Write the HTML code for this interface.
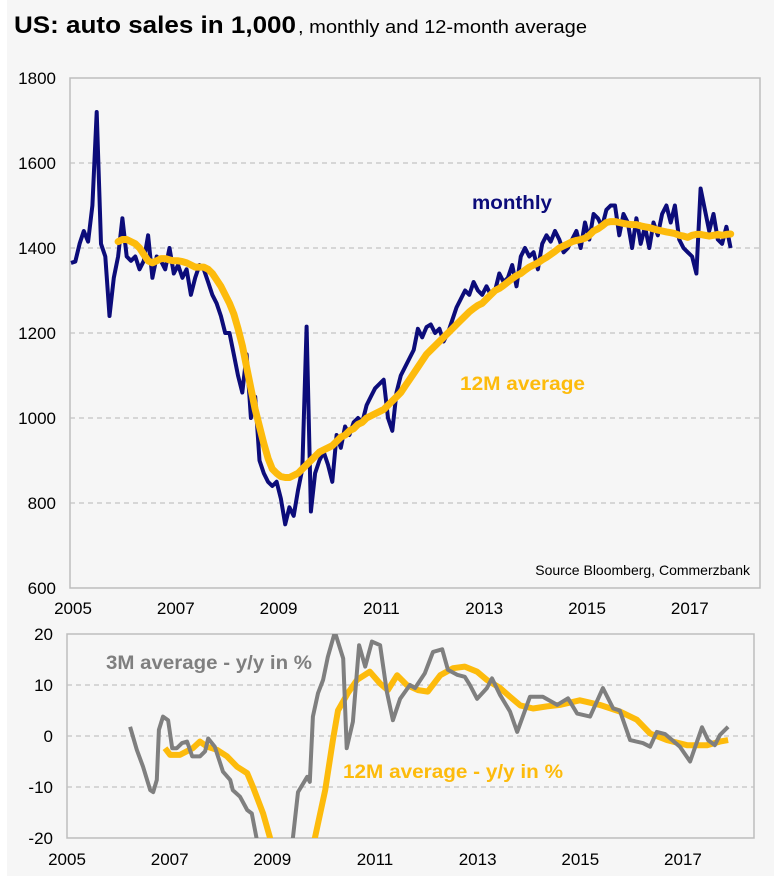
<!DOCTYPE html>
<html><head><meta charset="utf-8">
<style>
html,body{margin:0;padding:0;background:#fff;}
body{width:774px;height:876px;overflow:hidden;font-family:"Liberation Sans",Arial,sans-serif;}
svg text{font-family:"Liberation Sans",Arial,sans-serif;}
</style></head>
<body>
<svg id="chart" width="774" height="876" xmlns="http://www.w3.org/2000/svg">
<rect x="7" y="0" width="767" height="876" fill="#f6f6f6"/>
<text x="14" y="33" font-size="24" font-weight="bold" fill="#000" textLength="282" lengthAdjust="spacingAndGlyphs">US: auto sales in 1,000</text>
<text x="298" y="33" font-size="18" fill="#000" textLength="289" lengthAdjust="spacingAndGlyphs">, monthly and 12-month average</text>
<defs><clipPath id="bclip"><rect x="67" y="634" width="687" height="204"/></clipPath></defs>
<g id="topChart"></g>
<g id="botChart"></g>
</svg>
<script>
// ---- top chart data ----
const monthlyStart = 2005.0;
const monthlySales = [
1365,1368,1410,1440,1415,1500,1720,1410,1380,1240,1330,1380,
1470,1380,1370,1380,1350,1370,1430,1330,1380,1370,1350,1400,
1340,1360,1330,1350,1290,1330,1360,1350,1320,1290,1270,1240,
1200,1200,1150,1100,1060,1150,1000,1050,900,870,850,840,
850,810,750,790,770,830,880,1215,780,870,900,920,
890,850,960,930,980,960,990,1000,990,1030,1050,1070,
1080,1090,1000,970,1060,1100,1120,1140,1160,1210,1190,1214,
1220,1200,1210,1180,1200,1230,1260,1280,1300,1290,1320,1300,
1290,1310,1290,1300,1340,1320,1330,1360,1310,1380,1400,1380,
1390,1350,1410,1430,1415,1440,1420,1390,1400,1420,1440,1400,
1460,1420,1480,1470,1450,1490,1500,1500,1430,1480,1460,1400,
1470,1410,1450,1400,1460,1430,1480,1500,1460,1500,1420,1400,
1390,1380,1340,1540,1490,1440,1480,1420,1410,1450,1400];
const avgStart = 2005.917;
const avgSales = [1415,
1420,1420,1415,1410,1400,1385,1370,1365,1370,1375,1375,1372,
1370,1370,1368,1365,1360,1355,1355,1355,1350,1340,1325,1310,
1290,1270,1245,1210,1170,1120,1070,1020,980,940,905,880,
870,862,860,860,865,870,880,890,900,910,920,925,
930,935,945,955,960,970,975,985,990,1000,1005,1010,
1015,1020,1030,1040,1050,1060,1075,1090,1105,1120,1135,1150,
1160,1170,1180,1190,1200,1210,1220,1230,1240,1250,1258,1265,
1270,1280,1290,1300,1305,1312,1320,1328,1335,1340,1348,1355,
1360,1365,1372,1378,1385,1392,1400,1405,1410,1415,1418,1420,
1423,1430,1440,1445,1452,1460,1462,1462,1460,1458,1456,1455,
1455,1452,1450,1448,1445,1442,1440,1438,1436,1434,1430,1428,
1425,1430,1432,1432,1430,1428,1430,1432,1430,1432,1433];
const topTicks = [600,800,1000,1200,1400,1600,1800];
const yearTicks = [2005,2007,2009,2011,2013,2015,2017];

// ---- bottom chart data ----
const m3Years = [2006.23,2006.36,2006.48,2006.62,2006.68,2006.75,2006.79,2006.87,2006.97,2007.05,2007.14,2007.24,2007.34,2007.44,2007.59,2007.69,2007.75,2007.88,2008.04,2008.18,2008.23,2008.37,2008.51,2008.60,2008.70,2008.9,2009.1,2009.3,2009.40,2009.50,2009.68,2009.73,2009.79,2009.89,2009.99,2010.08,2010.22,2010.38,2010.45,2010.57,2010.69,2010.81,2010.94,2011.10,2011.23,2011.35,2011.49,2011.68,2011.78,2011.97,2012.13,2012.31,2012.42,2012.60,2012.75,2012.85,2012.99,2013.18,2013.28,2013.44,2013.63,2013.77,2014.02,2014.27,2014.55,2014.76,2014.94,2015.19,2015.44,2015.64,2015.77,2015.97,2016.22,2016.36,2016.49,2016.65,2016.94,2017.14,2017.37,2017.49,2017.62,2017.72,2017.88];
const m3Values = [1.8,-2.7,-6,-10.6,-11,-8.6,1.2,3.8,3.1,-2.4,-2.4,-1.4,-1.1,-4,-4,-3,-0.5,-2.1,-7,-8.6,-10.6,-11.9,-14.5,-15.2,-20.4,-30,-35,-28,-20,-11,-8,-9,3.8,8.4,11,15.5,20.4,15.2,-2.4,2.8,17.8,13.6,18.5,17.8,8.7,3.1,7.3,10,9.4,12.3,16.5,17,13,12,11.6,10,7.3,9.4,11.3,8,4.8,0.8,7.7,7.7,6.1,7.4,4.4,3.8,9.4,5.4,5,-0.8,-1.4,-2.1,0.8,0.4,-2.1,-5,1.7,-0.8,-1.8,0.2,1.8];
const m12Years = [2006.91,2007.01,2007.20,2007.45,2007.59,2007.73,2007.92,2008.12,2008.31,2008.51,2008.62,2008.82,2008.95,2009.2,2009.5,2009.83,2010.03,2010.18,2010.28,2010.47,2010.65,2010.90,2011.10,2011.25,2011.43,2011.62,2011.84,2012.03,2012.27,2012.52,2012.75,2012.99,2013.18,2013.44,2013.63,2013.83,2014.08,2014.35,2014.60,2014.99,2015.38,2015.77,2016.10,2016.36,2016.69,2017.08,2017.47,2017.72,2017.88];
const m12Values = [-2.4,-3.7,-3.7,-2.4,-1.1,-2.1,-2.7,-4,-6,-7.3,-9.9,-15.2,-19.8,-30,-30,-20,-10.6,-0.8,5,8.4,11,12.6,10.3,9,11.9,10,9,8.7,11.9,13.3,13.6,12.6,11,9.4,7.7,6,5.4,5.8,6.1,7,6.1,4.8,3.2,0.5,-0.8,-1.8,-1.8,-1.1,-0.8];
const botTicks = [-20,-10,0,10,20];

const NS="http://www.w3.org/2000/svg";
function mk(tag,attrs,parent){const e=document.createElementNS(NS,tag);for(const k in attrs)e.setAttribute(k,attrs[k]);parent.appendChild(e);return e;}

// ---- top chart ----
const topG=document.getElementById('topChart');
const TL=70,TR=760,TT=78,TB=588;
const tx=y=>71+(y-2005)*51.4;
const ty=v=>TB-(v-600)*(TB-TT)/1200;
const tFrame=mk('rect',{x:TL,y:TT,width:TR-TL,height:TB-TT,fill:'none',stroke:'#bdbdbd','stroke-width':1.5},topG);


topTicks.forEach(v=>{
  if(v>600&&v<1800){const g=mk('line',{x1:TL,x2:TR,y1:ty(v),y2:ty(v),stroke:'#c4c4c4','stroke-dasharray':'5,4','stroke-width':1.2},topG);
  
  }
  const t=mk('text',{x:56,y:ty(v)+6,'text-anchor':'end','font-size':17,fill:'#000'},topG);t.textContent=v;
  
  
});
yearTicks.forEach(y=>{
  const t=mk('text',{x:tx(y)+2,y:614,'text-anchor':'middle','font-size':17,fill:'#000'},topG);t.textContent=y;
  
  
});
const mPts=monthlySales.map((v,i)=>tx(monthlyStart+i/12).toFixed(1)+','+ty(v).toFixed(1)).join(' ');
const mLine=mk('polyline',{points:mPts,fill:'none',stroke:'#0c0c7a','stroke-width':4,'stroke-linejoin':'round'},topG);


const aPts=avgSales.map((v,i)=>tx(avgStart+i/12).toFixed(1)+','+ty(v).toFixed(1)).join(' ');
const aLine=mk('polyline',{points:aPts,fill:'none',stroke:'#fdbb0c','stroke-width':7,'stroke-linejoin':'round','stroke-linecap':'round'},topG);


const l1=mk('text',{x:472,y:209,'font-size':19,'font-weight':'bold',fill:'#0c0c7a',textLength:80,lengthAdjust:'spacingAndGlyphs'},topG);l1.textContent='monthly';


const l2=mk('text',{x:460,y:390,'font-size':19,'font-weight':'bold',fill:'#fdbb0c',textLength:125,lengthAdjust:'spacingAndGlyphs'},topG);l2.textContent='12M average';


const src=mk('text',{x:750,y:575,'text-anchor':'end','font-size':14,fill:'#000'},topG);src.textContent='Source Bloomberg, Commerzbank';



// ---- bottom chart ----
const botG=document.getElementById('botChart');
const BL=67,BR=754,BT=634,BB=838;
const bx=y=>67+(y-2005)*51.33;
const by=v=>BB-(v+20)*(BB-BT)/40;
const bFrame=mk('rect',{x:BL,y:BT,width:BR-BL,height:BB-BT,fill:'none',stroke:'#bdbdbd','stroke-width':1.5},botG);


botTicks.forEach(v=>{
  if(v>-20&&v<20){const g=mk('line',{x1:BL,x2:BR,y1:by(v),y2:by(v),stroke:'#c4c4c4','stroke-dasharray':'5,4','stroke-width':1.2},botG);
  
  }
  const t=mk('text',{x:53,y:by(v)+6,'text-anchor':'end','font-size':17,fill:'#000'},botG);t.textContent=v;
  
  
});
yearTicks.forEach(y=>{
  const t=mk('text',{x:bx(y),y:865,'text-anchor':'middle','font-size':17,fill:'#000'},botG);t.textContent=y;
  
  
});
const p12=m12Years.map((y,i)=>bx(y).toFixed(1)+','+by(m12Values[i]).toFixed(1)).join(' ');
const y12=mk('polyline',{points:p12,fill:'none',stroke:'#fdbb0c','stroke-width':6,'stroke-linejoin':'round','clip-path':'url(#bclip)'},botG);


const p3=m3Years.map((y,i)=>bx(y).toFixed(1)+','+by(m3Values[i]).toFixed(1)).join(' ');
const y3=mk('polyline',{points:p3,fill:'none',stroke:'#7f7f7f','stroke-width':4,'stroke-linejoin':'round','clip-path':'url(#bclip)'},botG);


const l3=mk('text',{x:106,y:669,'font-size':19,'font-weight':'bold',fill:'#7f7f7f',textLength:206,lengthAdjust:'spacingAndGlyphs'},botG);l3.textContent='3M average - y/y in %';


const l4=mk('text',{x:343,y:778,'font-size':19,'font-weight':'bold',fill:'#fdbb0c',textLength:220,lengthAdjust:'spacingAndGlyphs'},botG);l4.textContent='12M average - y/y in %';


</script>
</body></html>
